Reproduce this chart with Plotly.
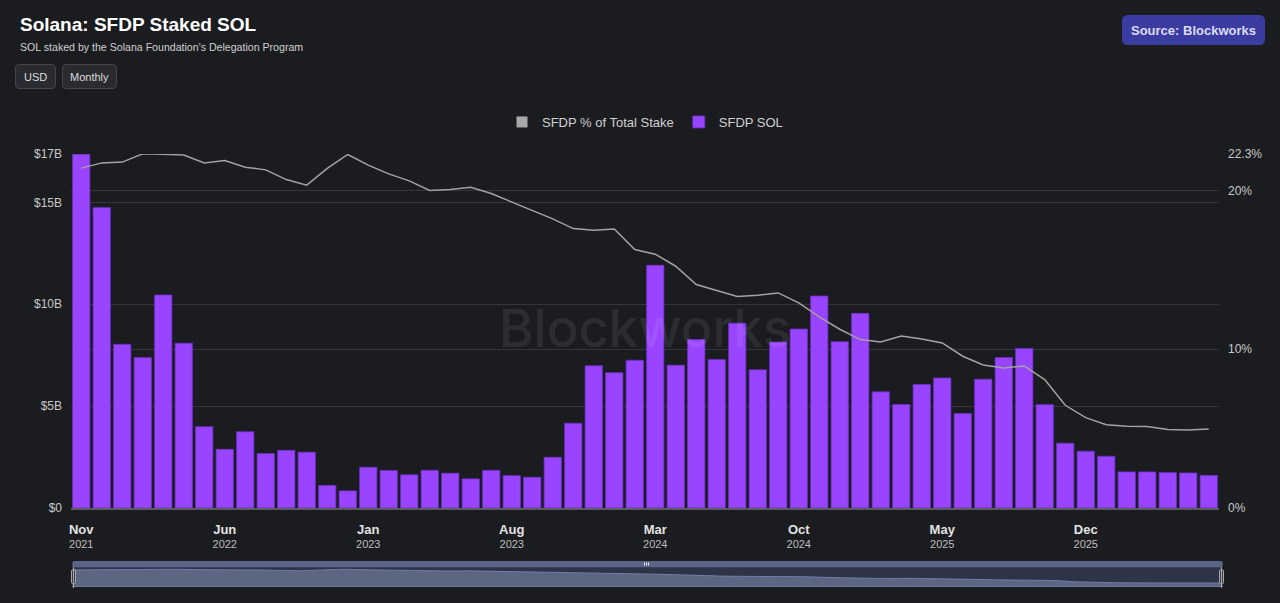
import pandas as pd
import plotly.graph_objects as go

# monthly data, Nov 2021 -> Jun 2026
months = pd.date_range("2021-11-01", periods=56, freq="MS").strftime("%Y-%m").tolist()

sfdp_sol_bn = [17.36, 14.74, 8.03, 7.38, 10.45, 8.09, 3.99, 2.88, 3.74, 2.67,
               2.83, 2.74, 1.11, 0.84, 2.00, 1.84, 1.63, 1.85, 1.71, 1.43,
               1.85, 1.59, 1.51, 2.49, 4.16, 6.98, 6.64, 7.25, 11.91, 7.01,
               8.27, 7.29, 9.07, 6.78, 8.14, 8.78, 10.40, 8.16, 9.55, 5.70,
               5.08, 6.06, 6.38, 4.64, 6.32, 7.38, 7.83, 5.07, 3.18, 2.79,
               2.54, 1.77, 1.77, 1.74, 1.72, 1.60]

pct_of_stake = [21.41, 21.74, 21.79, 22.31, 22.29, 22.23, 21.74, 21.89, 21.47, 21.30,
                20.69, 20.34, 21.39, 22.27, 21.60, 21.05, 20.61, 20.00, 20.06, 20.21,
                19.81, 19.29, 18.76, 18.21, 17.60, 17.50, 17.58, 16.28, 15.99, 15.23,
                14.08, 13.68, 13.32, 13.40, 13.55, 12.92, 12.04, 11.26, 10.61, 10.46,
                10.84, 10.65, 10.40, 9.56, 9.01, 8.82, 8.95, 8.09, 6.47, 5.69,
                5.25, 5.15, 5.13, 4.94, 4.92, 4.98]

tick_months = ["2021-11", "2022-06", "2023-01", "2023-08", "2024-03", "2024-10", "2025-05", "2025-12"]
tick_mon = ["Nov", "Jun", "Jan", "Aug", "Mar", "Oct", "May", "Dec"]
tick_year = ["2021", "2022", "2023", "2023", "2024", "2024", "2025", "2025"]

usd_max = 17.37
usd_ticks = [0, 5, 10, 15, usd_max]
usd_text = ["$0", "$5B", "$10B", "$15B", "$17B"]
pct_max = 22.3
pct_ticks = [0, 10, 20, pct_max]
pct_text = ["0%", "10%", "20%", "22.3%"]

BG = "#1b1c20"
PURPLE = "#9945ff"
GRID = "#34353b"
FONT = "Liberation Sans"

W, H = 1280, 603
ML, MR, MT, MB = 71, 57, 154, 16
PW, PH = W - ML - MR, H - MT - MB


def px(x):
    return (x - ML) / PW


def py(y):
    return (H - MB - y) / PH


def rrect(x0, y0, x1, y1, r):
    pts = [
        ("M", x0 + r, y0), ("L", x1 - r, y0), ("Q", x1, y0, x1, y0 + r),
        ("L", x1, y1 - r), ("Q", x1, y1, x1 - r, y1), ("L", x0 + r, y1),
        ("Q", x0, y1, x0, y1 - r), ("L", x0, y0 + r), ("Q", x0, y0, x0 + r, y0),
    ]
    out = ""
    for p in pts:
        if p[0] == "Q":
            out += f"Q{px(p[1]):.5f},{py(p[2]):.5f} {px(p[3]):.5f},{py(p[4]):.5f} "
        else:
            out += f"{p[0]}{px(p[1]):.5f},{py(p[2]):.5f} "
    return out + "Z"


fig = go.Figure()

fig.add_trace(go.Bar(
    x=months, y=sfdp_sol_bn, name="SFDP SOL",
    marker=dict(color=PURPLE, line=dict(color="#6a30c2", width=0.8)),
    legendrank=2,
))
fig.add_trace(go.Scatter(
    x=months, y=pct_of_stake, yaxis="y2", mode="lines",
    line=dict(color="#a3a3a3", width=1.5), showlegend=False,
))
# legend entry for the line, square icon
fig.add_trace(go.Scatter(
    x=[None], y=[None], yaxis="y2", mode="markers", name="SFDP % of Total Stake",
    marker=dict(symbol="square", size=11, color="#a8a8a8"), legendrank=1,
))
# navigator
fig.add_trace(go.Scatter(
    x=months, y=pct_of_stake, xaxis="x2", yaxis="y3", mode="lines",
    fill="tozeroy", fillcolor="#5b6681", line=dict(color="#737bab", width=1),
    showlegend=False,
))

main_bottom = py(508)
nav_top = py(568)

fig.update_layout(
    width=W, height=H,
    margin=dict(l=ML, r=MR, t=MT, b=MB),
    paper_bgcolor=BG, plot_bgcolor=BG,
    font=dict(family=FONT, color="#cfcfcf", size=12),
    bargap=0.155,
    showlegend=True,
    legend=dict(orientation="h", x=px(645), xanchor="center", y=py(122), yanchor="middle",
                font=dict(size=13, color="#d0d0d0"), bgcolor="rgba(0,0,0,0)",
                itemclick=False),
    xaxis=dict(
        type="category", domain=[0, (1219 - ML) / PW], range=[-0.5, len(months) - 0.5],
        tickmode="array", tickvals=tick_months,
        ticktext=[f"<span style='font-size:13px;color:#e2e2e2'><b>{m}</b></span><br>{y}"
                  for m, y in zip(tick_mon, tick_year)],
        tickfont=dict(size=11, color="#bdbdbd"),
        showgrid=False, showline=True, linecolor="#5c5c60", linewidth=1.5,
        ticks="", anchor="y", ticklabelstandoff=11, automargin=False,
    ),
    yaxis=dict(
        domain=[main_bottom, 1], range=[0, usd_max],
        tickmode="array", tickvals=usd_ticks, ticktext=usd_text,
        tickfont=dict(size=12, color="#c8c8c8"),
        gridcolor=GRID, gridwidth=1, zeroline=False, ticks="",
        ticklabelstandoff=8, automargin=False,
    ),
    yaxis2=dict(
        overlaying="y", side="right", range=[0, pct_max],
        tickmode="array", tickvals=pct_ticks, ticktext=pct_text,
        tickfont=dict(size=12, color="#c8c8c8"),
        gridcolor=GRID, gridwidth=1, zeroline=False, ticks="",
        ticklabelstandoff=8, automargin=False,
    ),
    xaxis2=dict(
        type="category", domain=[px(72.3), px(1222.7)], range=[0, len(months) - 1],
        visible=False, anchor="y3", automargin=False,
    ),
    yaxis3=dict(domain=[0, nav_top], range=[0, 23.8], visible=False, anchor="x2",
                automargin=False),
)

shapes = [
    # navigator background and top strip
    dict(type="rect", xref="paper", yref="paper", x0=px(72.3), x1=px(1222.7),
         y0=py(587), y1=py(568), fillcolor="#2e3447", line=dict(width=0), layer="below"),
    dict(type="path", xref="paper", yref="paper", path=rrect(72.3, 561, 1222.7, 567.5, 2),
         fillcolor="#5a6489", line=dict(width=0)),
    dict(type="line", xref="paper", yref="paper", x0=px(72.3), x1=px(1222.7),
         y0=py(586.5), y1=py(586.5), line=dict(color="#6f789c", width=1)),
    # handles
    dict(type="path", xref="paper", yref="paper", path=rrect(71.5, 570, 75.5, 583.5, 1),
         fillcolor="#3a3c44", line=dict(color="#a9a9ad", width=1)),
    dict(type="path", xref="paper", yref="paper", path=rrect(1219.5, 570, 1223.5, 583.5, 1),
         fillcolor="#3a3c44", line=dict(color="#a9a9ad", width=1)),
    dict(type="line", xref="paper", yref="paper", x0=px(73.5), x1=px(73.5),
         y0=py(567), y1=py(588), line=dict(color="#a9a9ad", width=1)),
    dict(type="line", xref="paper", yref="paper", x0=px(1221.5), x1=px(1221.5),
         y0=py(567), y1=py(588), line=dict(color="#a9a9ad", width=1)),
    # buttons
    dict(type="path", xref="paper", yref="paper", path=rrect(15.5, 64.5, 55.5, 88.5, 4),
         fillcolor="#2a2b30", line=dict(color="#46474d", width=1)),
    dict(type="path", xref="paper", yref="paper", path=rrect(62.5, 64.5, 116.5, 88.5, 4),
         fillcolor="#2a2b30", line=dict(color="#46474d", width=1)),
    dict(type="path", xref="paper", yref="paper", path=rrect(1122, 15, 1265, 45, 6),
         fillcolor="#3a3d9f", line=dict(width=0)),
]
for gx in (644.5, 646.5, 648.5):
    shapes.append(dict(type="line", xref="paper", yref="paper", x0=px(gx), x1=px(gx),
                       y0=py(562.5), y1=py(565.5), line=dict(color="#e8e8f0", width=1)))
fig.update_layout(shapes=shapes)

annotations = [
    dict(text="<b>Solana: SFDP Staked SOL</b>", x=px(18), y=py(24), xanchor="left", yanchor="middle",
         font=dict(size=19, color="#ffffff")),
    dict(text="SOL staked by the Solana Foundation's Delegation Program", x=px(18), y=py(47),
         xanchor="left", yanchor="middle", font=dict(size=10.6, color="#cfcfcf")),
    dict(text="USD", x=px(35.5), y=py(76.5), xanchor="center", yanchor="middle",
         font=dict(size=11, color="#dcdcdc")),
    dict(text="Monthly", x=px(89.5), y=py(76.5), xanchor="center", yanchor="middle",
         font=dict(size=11, color="#dcdcdc")),
    dict(text="<b>Source: Blockworks</b>", x=px(1193.5), y=py(30), xanchor="center", yanchor="middle",
         font=dict(size=13, color="#dcdcf8")),
    dict(text="Blockworks", x=px(644.5), y=py(327.5), xanchor="center", yanchor="middle",
         font=dict(family="Inter", size=52.5, weight=500, color="rgba(255,255,255,0.08)")),
]
for a in annotations:
    a.update(xref="paper", yref="paper", showarrow=False)
fig.update_layout(annotations=annotations)

fig.write_html("out.html", config={"displayModeBar": False},
               post_script="document.body.style.margin='0';document.body.style.background='#1b1c20';"
                           "document.body.style.overflow='hidden';")
